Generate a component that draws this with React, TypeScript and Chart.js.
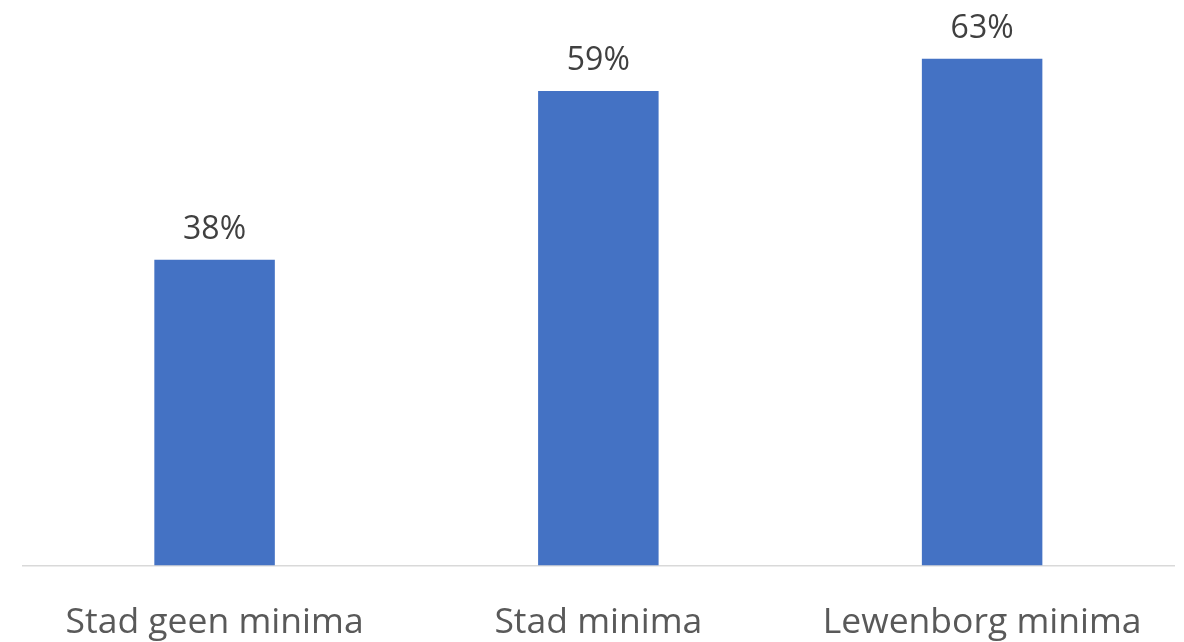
import React, { useEffect, useRef } from "react";
import { Chart, registerables } from "chart.js";

Chart.register(...registerables);

const categories = ["Stad geen minima", "Stad minima", "Lewenborg minima"];
const values = [0.38, 0.59, 0.63];
const valueLabels = ["38%", "59%", "63%"];

const FONT = "'Open Sans', 'Noto Sans', sans-serif";

const dataLabelPlugin = {
  id: "dataLabels",
  afterDatasetsDraw(chart: any) {
    const ctx = chart.ctx;
    const meta = chart.getDatasetMeta(0);
    ctx.save();
    ctx.font = `32px ${FONT}`;
    ctx.fillStyle = "#404040";
    ctx.textAlign = "center";
    ctx.textBaseline = "alphabetic";
    meta.data.forEach((bar: any, i: number) => {
      ctx.fillText(valueLabels[i], bar.x, bar.y - 21);
    });
    ctx.restore();
  },
};

export default function App() {
  const canvasRef = useRef<HTMLCanvasElement | null>(null);

  useEffect(() => {
    if (!canvasRef.current) return;
    const chart = new Chart(canvasRef.current, {
      type: "bar",
      data: {
        labels: categories,
        datasets: [
          {
            data: values,
            backgroundColor: "#4472C4",
            borderWidth: 0,
            categoryPercentage: 1,
            barPercentage: 0.314,
          },
        ],
      },
      options: {
        animation: false,
        responsive: false,
        maintainAspectRatio: false,
        layout: { padding: { left: 22.7, right: 10, top: 2.5, bottom: -39 } },
        plugins: {
          legend: { display: false },
          tooltip: { enabled: false },
        },
        scales: {
          y: {
            display: false,
            min: 0,
            max: 0.7,
          },
          x: {
            grid: { display: false, drawTicks: false },
            border: { display: true, color: "#d9d9d9", width: 1.5 },
            ticks: {
              color: "#595959",
              font: { family: FONT, size: 35.5, lineHeight: 1.0 },
              padding: 40,
              maxRotation: 0,
              autoSkip: false,
            },
          },
        },
      },
      plugins: [dataLabelPlugin],
    });
    return () => chart.destroy();
  }, []);

  return (
    <div style={{ position: "fixed", left: 0, top: 0, width: 1184, height: 642, background: "#ffffff" }}>
      <canvas ref={canvasRef} width={1184} height={642} style={{ width: 1184, height: 642, display: "block" }} />
    </div>
  );
}
